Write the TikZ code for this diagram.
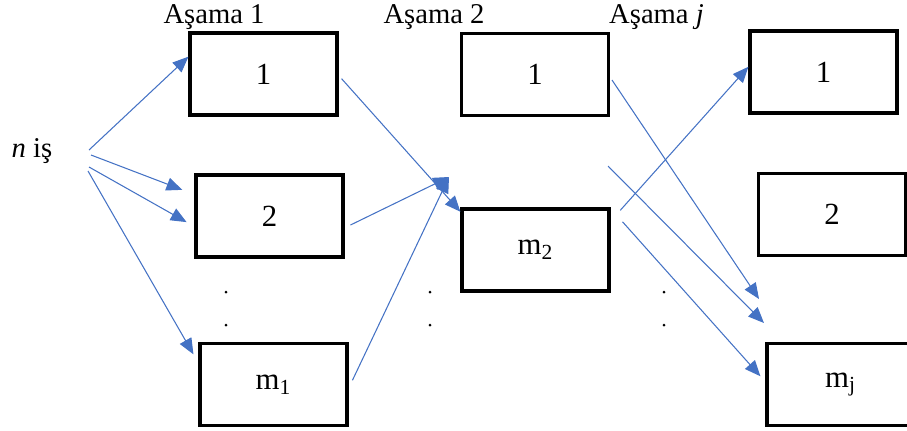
\documentclass[tikz,border=0pt]{standalone}
\usepackage{fontspec}
\setmainfont{Liberation Serif}
\usepackage{tikz}
\usetikzlibrary{arrows.meta}
\definecolor{okmavi}{HTML}{4472C4}

\begin{document}
\begin{tikzpicture}[x=0.02cm, y=-0.02cm, line width=.6pt,
    kutu/.style={draw=black, line width=1.8pt, minimum width=2.94cm, minimum height=1.64cm, inner sep=0pt, font=\fontsize{17.5}{20}\selectfont},
    etiket/.style={anchor=base, inner sep=0pt, font=\fontsize{16.3}{19}\selectfont},
    ok/.style={draw=okmavi, -{Triangle[length=9pt, width=7.5pt]}} ]
    \useasboundingbox (0,0) rectangle (907,430);

    % Kutular.
    \node[kutu] (a1) at (263.5, 74)    {1};
    \node[kutu] (a2) at (269.5, 216)   {2};
    \node[kutu] (am) at (273.5, 384.5) {m\textsubscript{1}};
    \node[kutu] (b1) at (535, 74.5)    {1};
    \node[kutu] (bm) at (535.5, 250)   {m\textsubscript{2}};
    \node[kutu] (c1) at (823.5, 72)    {1};
    \node[kutu] (c2) at (832, 214.5)   {2};
    \node[kutu] (cm) at (840.5, 384.5) {m\textsubscript{j}};

    % Noktalar.
    \foreach \x in {226, 430, 664}
    {
        \fill (\x, 292) circle (0.03cm);
        \fill (\x, 325) circle (0.03cm);
    }

    % Beschriftung.
    \node[etiket] (e1) at (214, 23)   {Aşama 1};
    \node[etiket] (e2) at (434, 23)   {Aşama 2};
    \node[etiket] (ej) at (656.5, 23) {Aşama \textit{j}};
    \node[etiket] (is) at (32, 157)   {\textit{n} iş};

    % Serbest uçlar.
    \coordinate (s1) at (89, 150);
    \coordinate (s2) at (91, 155);
    \coordinate (s3) at (89, 167);
    \coordinate (s4) at (88, 171);
    \coordinate (k)  at (449, 177);
    \coordinate (b0) at (608, 166);
    \coordinate (u1) at (759, 299);
    \coordinate (u2) at (764, 323);

    % Oklar.
    \draw[ok]                    (s1) -- (a1.167);
    \draw[ok, shorten >=0.26cm]  (s2) -- (a2.164.5);
    \draw[ok, shorten >=0.18cm]  (s3) -- (a2.188.9);
    \draw[ok, shorten >=0.2cm]   (s4) -- (am.164.1);

    \draw[ok, shorten <=0.09cm]  (a1.359.5) -- (bm.153.3);
    \draw[ok, shorten <=0.13cm]  (a2.351.6) -- (k);
    \draw[ok, shorten <=0.18cm]  (am.357.9) -- (k);

    \draw[ok, shorten <=0.07cm]  (b1.358) -- (u1);
    \draw[ok]                    (b0) -- (u2);
    \draw[ok, shorten <=0.29cm]  (bm.21.7) -- (c1.176.9);
    \draw[ok, shorten <=0.36cm, shorten >=0.15cm] (bm.29) -- (cm.178.4);
\end{tikzpicture}
\end{document}
